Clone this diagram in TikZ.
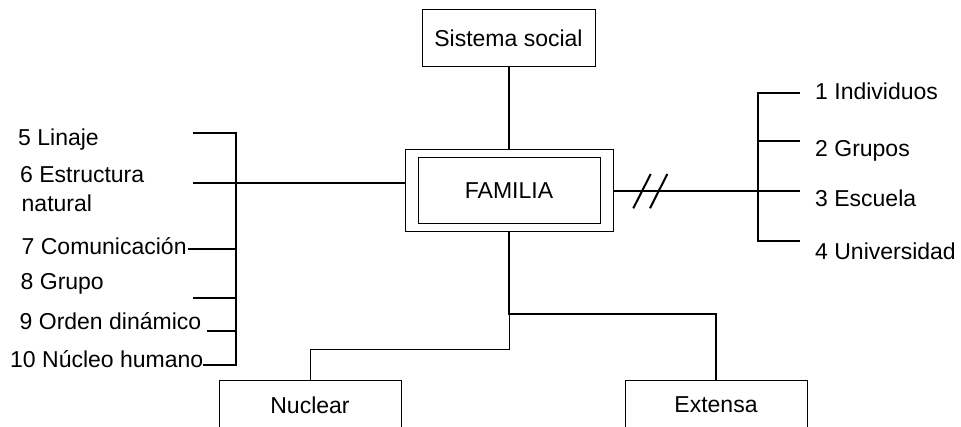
\documentclass[tikz,border=0pt]{standalone}
\usepackage{fontspec}
\setmainfont{Liberation Sans}
\begin{document}
\begin{tikzpicture}[x=1pt,y=-1pt,
  boxst/.style={draw=black, line width=1pt, inner sep=0pt, font=\fontsize{23}{27}\selectfont},
  lbl/.style={anchor=base west, inner sep=0pt, font=\fontsize{23}{27}\selectfont},
  conn/.style={line width=2pt},
  thinconn/.style={line width=1pt}]
\useasboundingbox (0,0) rectangle (961,427);
\clip (0,0) rectangle (961,427);
% boxes
\node[boxst, minimum width=173pt, minimum height=57pt] (sis) at (508.5,38) {Sistema social};
\node[boxst, minimum width=208pt, minimum height=82pt] (fam) at (509,191) {};
\node[boxst, minimum width=182pt, minimum height=66pt] (famin) at (509,191) {FAMILIA};
\node[boxst, minimum width=182pt, minimum height=48pt] (nuc) at (310,405) {Nuclear};
\node[boxst, minimum width=182pt, minimum height=48pt] (ext) at (716,405) {Extensa};
% left labels
\node[lbl] (l5) at (18,146) {5 Linaje};
\node[lbl] (l6) at (20,183) {6 Estructura};
\node[lbl] (l6b) at (21.5,211.5) {natural};
\node[lbl] (l7) at (21.5,255) {7 Comunicación};
\node[lbl] (l8) at (20.5,290) {8 Grupo};
\node[lbl] (l9) at (19.5,330) {9 Orden dinámico};
\node[lbl] (l10) at (10,368) {10 Núcleo humano};
% right labels
\node[lbl] (r1) at (815,100) {1 Individuos};
\node[lbl] (r2) at (815,157) {2 Grupos};
\node[lbl] (r3) at (815,206.5) {3 Escuela};
\node[lbl] (r4) at (815,259.3) {4 Universidad};
% left bracket coordinates
\coordinate (a5) at (193,133.5); \coordinate (b5) at (236,133.5);
\coordinate (a6) at (193,183);
\coordinate (a7) at (188,249); \coordinate (b7) at (236,249);
\coordinate (a8) at (193,298.5); \coordinate (b8) at (236,298.5);
\coordinate (a9) at (206.5,331.5); \coordinate (b9) at (236,331.5);
\coordinate (a10) at (203,365); \coordinate (b10) at (236,365);
\draw[conn] (a5) -- (b5) -- (b10) -- (a10);
\draw[conn] (a6) -- (a6 -| fam.west);
\draw[conn] (a7) -- (b7);
\draw[conn] (a8) -- (b8);
\draw[conn] (a9) -- (b9);
% right bracket coordinates
\coordinate (c1) at (758,92.7); \coordinate (d1) at (799.5,92.7);
\coordinate (c2) at (758,140.7); \coordinate (d2) at (799.5,140.7);
\coordinate (d3) at (799.5,191);
\coordinate (c4) at (758,240.7); \coordinate (d4) at (799.5,240.7);
\draw[conn] (d1) -- (c1) -- (c4) -- (d4);
\draw[conn] (c2) -- (d2);
\draw[conn] (fam.east) -- (d3);
% break marks
\coordinate (s1a) at (633.3,208.3); \coordinate (s1b) at (650.7,174);
\coordinate (s2a) at (650,208.3); \coordinate (s2b) at (667.3,174);
\draw[conn] (s1a) -- (s1b);
\draw[conn] (s2a) -- (s2b);
% top
\draw[conn] (sis.south) -- (sis.south |- fam.north);
% bottom
\coordinate (m) at (509,314.3); \coordinate (m2) at (716,314.3);
\coordinate (n1) at (509,350); \coordinate (n2) at (310,350);
\draw[conn] (fam.south) -- (m) -- (m2) -- (ext.north);
\draw[thinconn] (m) -- (n1) -- (n2) -- (nuc.north);
\end{tikzpicture}
\end{document}
